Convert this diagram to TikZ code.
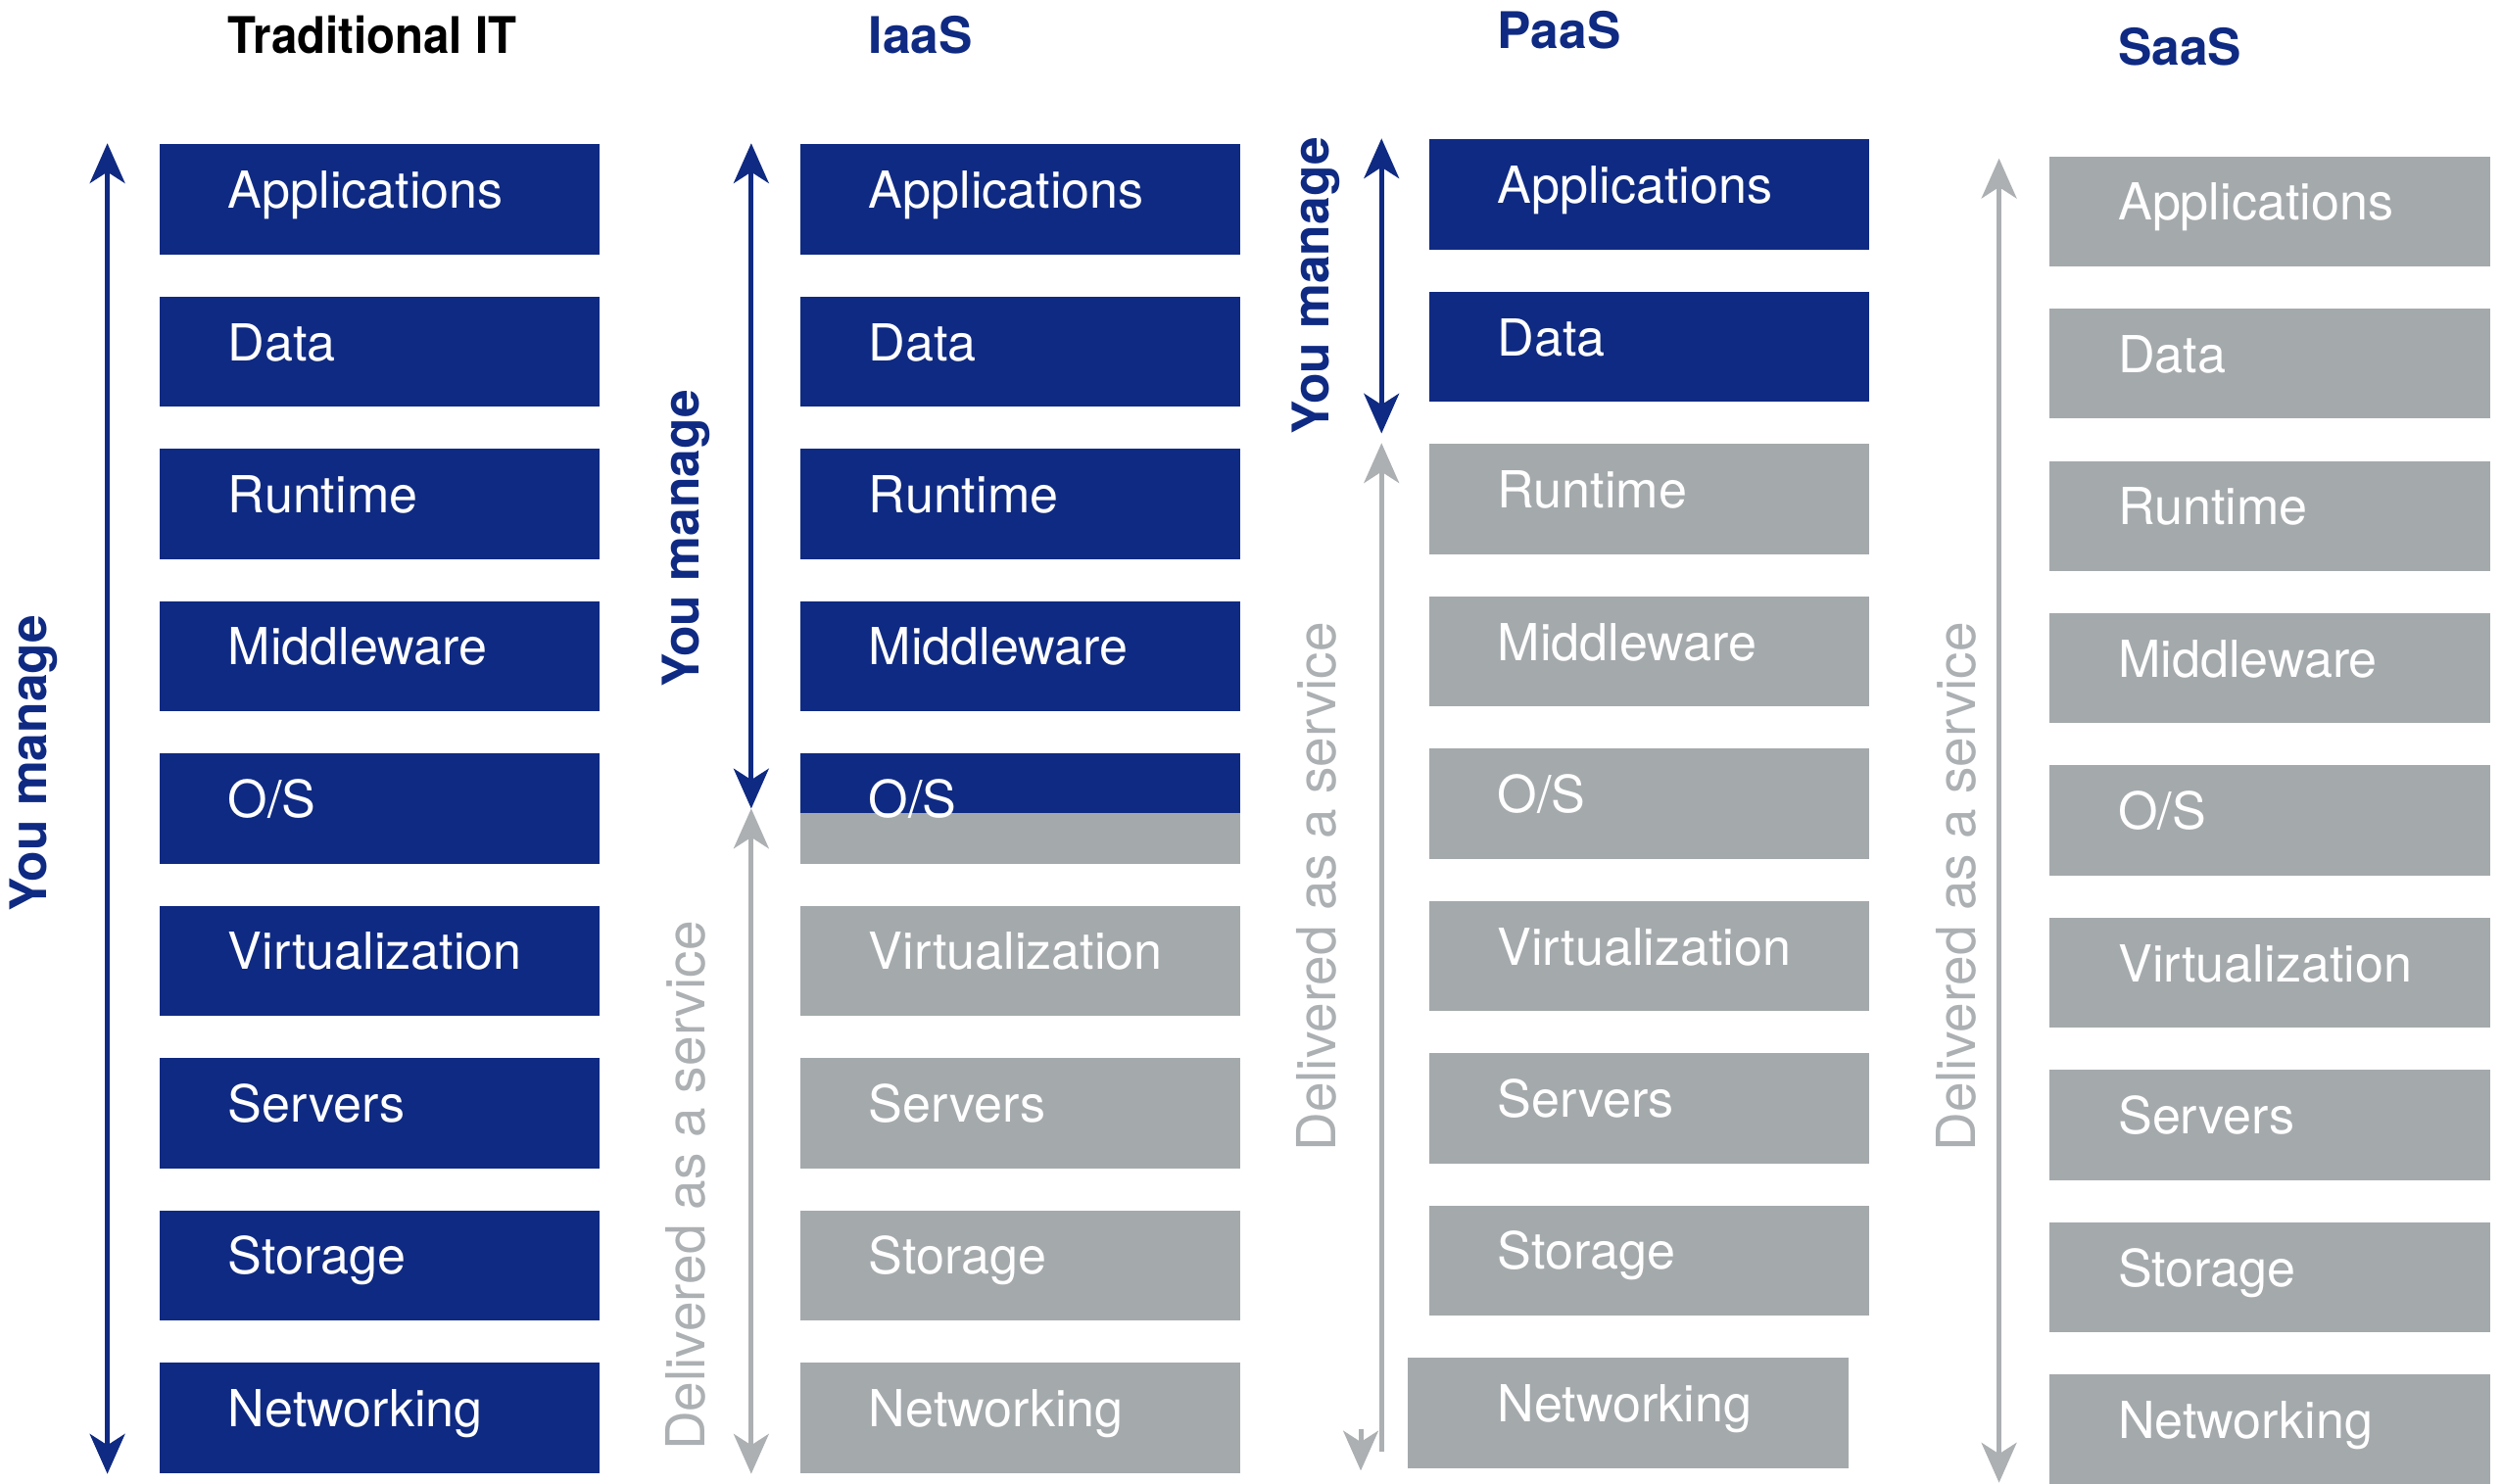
\documentclass[tikz,border=0pt]{standalone}
\usepackage{fontspec}
\setmainfont{TeX Gyre Heros}
\usetikzlibrary{positioning,arrows.meta}

\definecolor{navy}{RGB}{15,42,130}
\definecolor{stack}{RGB}{164,169,172}
\definecolor{served}{RGB}{172,176,179}

\tikzset{
  layer/.style={text=white, text width=19mm, inner xsep=4.3mm, inner ysep=0pt,
    minimum height=6.9mm, text height=2.3mm, text depth=1.2mm, align=left,
    font=\fontsize{9.1}{11}\selectfont},
  bluebox/.style={layer, fill=navy},
  greybox/.style={layer, fill=stack},
  title/.style={anchor=west, inner sep=0pt, font=\fontsize{9}{11}\selectfont\bfseries},
  manage/.style={<->, navy, line width=0.3mm},
  service/.style={<->, served, line width=0.3mm},
  managetext/.style={rotate=90, text=navy, font=\fontsize{9}{11}\selectfont\bfseries},
  servicetext/.style={rotate=90, text=served, font=\fontsize{9.6}{11}\selectfont}
}

\begin{document}
\begin{tikzpicture}[x=0.1mm, y=-0.1mm, node distance=9.545mm,
    >={Stealth[length=2.5mm, width=2.2mm, inset=0.7mm]}]
  \useasboundingbox (0,0) rectangle (1568,930);

  % Traditional IT
  \node (t1) [bluebox] at (238,125) {Applications};
  \node (t2) [bluebox, below of=t1] {Data};
  \node (t3) [bluebox, below of=t2] {Runtime};
  \node (t4) [bluebox, below of=t3] {Middleware};
  \node (t5) [bluebox, below of=t4] {O/S};
  \node (t6) [bluebox, below of=t5] {Virtualization};
  \node (t7) [bluebox, below of=t6] {Servers};
  \node (t8) [bluebox, below of=t7] {Storage};
  \node (t9) [bluebox, below of=t8] {Networking};
  \node (tHead) [title, xscale=0.92] at ([xshift=4.3mm, yshift=6.8mm]t1.north west) {Traditional IT};

  % IaaS
  \node (i1) [bluebox] at (639.5,125) {Applications};
  \node (i2) [bluebox, below of=i1] {Data};
  \node (i3) [bluebox, below of=i2] {Runtime};
  \node (i4) [bluebox, below of=i3] {Middleware};
  \node (i5) [greybox, below of=i4, path picture={
      \fill[navy] (path picture bounding box.north west)
        rectangle ([yshift=-3.7mm]path picture bounding box.north east);}] {O/S};
  \node (i6) [greybox, below of=i5] {Virtualization};
  \node (i7) [greybox, below of=i6] {Servers};
  \node (i8) [greybox, below of=i7] {Storage};
  \node (i9) [greybox, below of=i8] {Networking};
  \node (iHead) [title, text=navy] at ([xshift=4.3mm, yshift=6.8mm]i1.north west) {IaaS};

  % PaaS
  \node (p1) [bluebox] at (1033.5,122) {Applications};
  \node (p2) [bluebox, below of=p1] {Data};
  \node (p3) [greybox, below of=p2] {Runtime};
  \node (p4) [greybox, below of=p3] {Middleware};
  \node (p5) [greybox, below of=p4] {O/S};
  \node (p6) [greybox, below of=p5] {Virtualization};
  \node (p7) [greybox, below of=p6] {Servers};
  \node (p8) [greybox, below of=p7] {Storage};
  \node (p9) [greybox, below of=p8, xshift=-1.3mm] {\hspace*{1.3mm}Networking};
  \node (pHead) [title, text=navy] at ([xshift=4.3mm, yshift=6.8mm]p1.north west) {PaaS};

  % SaaS
  \node (s1) [greybox] at (1422.5,132.5) {Applications};
  \node (s2) [greybox, below of=s1] {Data};
  \node (s3) [greybox, below of=s2] {Runtime};
  \node (s4) [greybox, below of=s3] {Middleware};
  \node (s5) [greybox, below of=s4] {O/S};
  \node (s6) [greybox, below of=s5] {Virtualization};
  \node (s7) [greybox, below of=s6] {Servers};
  \node (s8) [greybox, below of=s7] {Storage};
  \node (s9) [greybox, below of=s8] {Networking};
  \node (sHead) [title, text=navy] at ([xshift=4.3mm, yshift=6.8mm]s1.north west) {SaaS};

  % who manages what
  \coordinate (tTop) at ([xshift=-3.2mm]t1.north west);
  \coordinate (tBot) at ([xshift=-3.2mm]t9.south west);
  \draw [manage] (tTop) -- node (tYou) [pos=0.466, xshift=-4.6mm, managetext] {You manage} (tBot);

  \coordinate (iTop) at ([xshift=-3mm]i1.north west);
  \coordinate (iMid) at ([xshift=-3mm]i5.west);
  \coordinate (iBot) at ([xshift=-3mm]i9.south west);
  \draw [manage] (iTop) -- node (iYou) [pos=0.594, xshift=-4.1mm, managetext] {You manage} (iMid);
  \draw [service] (iMid) -- node (iSvc) [pos=0.567, xshift=-4.1mm, servicetext] {Delivered as a service} (iBot);

  \coordinate (pTop) at ([xshift=-2.9mm]p1.north west);
  \coordinate (pMid) at ([xshift=-2.9mm, yshift=0.6mm]p3.north west);
  \coordinate (pLow) at ([xshift=-2.9mm]p3.north west);
  \coordinate (pEnd) at ([yshift=1.1mm]pTop |- p9.south);
  \coordinate (pBot) at ([xshift=-1.3mm, yshift=-0.1mm]pTop |- p9.south);
  \coordinate (pTip) at ([yshift=2.5mm]pBot);
  \draw [manage] (pTop) -- node (pYou) [pos=0.5, xshift=-4.1mm, managetext] {You manage} (pMid);
  \draw [service, <-] (pLow) -- node (pSvc) [pos=0.44, xshift=-4.1mm, servicetext] {Delivered as a service} (pEnd);
  \draw [service, ->, shorten <=-0.1mm] (pTip) -- (pBot);

  \coordinate (sTop) at ([xshift=-3.1mm, yshift=-0.2mm]s1.north west);
  \coordinate (sBot) at ([xshift=-3.1mm, yshift=0.2mm]s9.south west);
  \draw [service] (sTop) -- node (sSvc) [pos=0.55, xshift=-2.7mm, servicetext] {Delivered as a service} (sBot);
\end{tikzpicture}
\end{document}
